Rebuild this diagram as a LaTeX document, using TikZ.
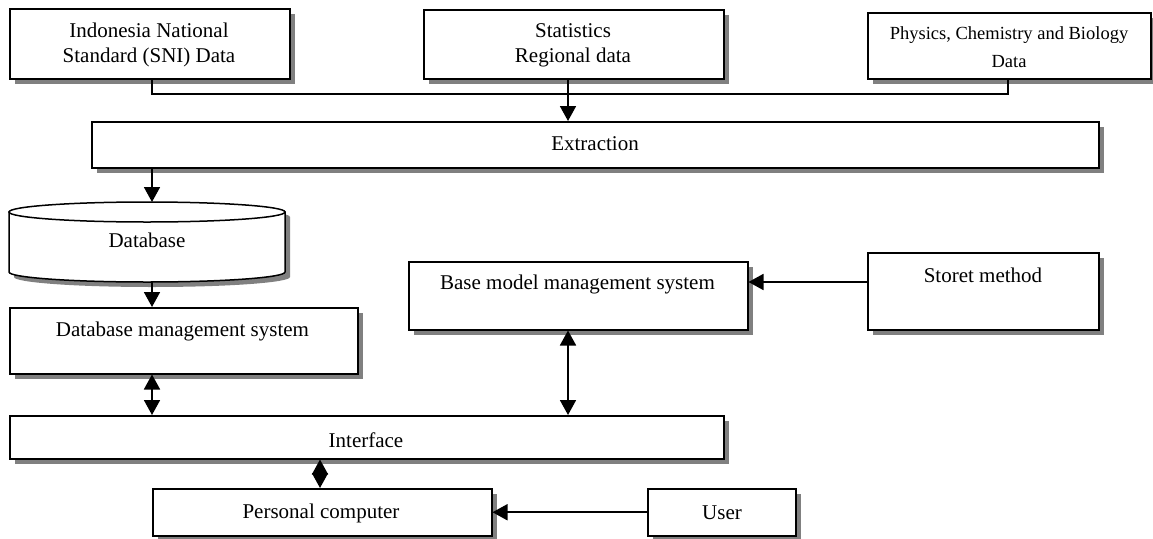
\documentclass[tikz,border=0pt]{standalone}
\usepackage{fontspec}
\setmainfont{Liberation Serif}
\usetikzlibrary{arrows.meta,shadows}
\begin{document}
\begin{tikzpicture}[x=1pt,y=-1pt,
  box/.style={draw, line width=1.5pt, fill=white,
    drop shadow={shadow xshift=5pt, shadow yshift=-5pt, fill=black!50, opacity=1},
    inner sep=0pt, anchor=north west},
  lbl/.style={font=\fontsize{21}{25}\selectfont, align=center, inner sep=0pt},
  conn/.style={line width=1.6pt},
  tip/.tip={Triangle[width=16pt,length=15pt]},
  arr/.style={line width=1.8pt, -tip},
  darr/.style={line width=1.8pt, tip-tip}]
\useasboundingbox (0,0) rectangle (1153,538);
% boxes
\node[box, minimum width=280pt, minimum height=70pt] (sni) at (9,8) {};
\node[box, minimum width=300pt, minimum height=69pt] (stat) at (423,9) {};
\node[box, minimum width=283pt, minimum height=66pt] (phys) at (867,12) {};
\node[box, minimum width=1007pt, minimum height=46pt] (ext) at (91,121) {};
\node[box, minimum width=348pt, minimum height=66pt] (dbms) at (9,307) {};
\node[box, minimum width=339pt, minimum height=68pt] (base) at (408,261) {};
\node[box, minimum width=231pt, minimum height=77pt] (store) at (867,252) {};
\node[box, minimum width=714pt, minimum height=43pt] (intf) at (9,415) {};
\node[box, minimum width=339pt, minimum height=47pt] (pc) at (152,488) {};
\node[box, minimum width=148pt, minimum height=47pt] (user) at (647,488) {};
% database cylinder
\node[inner sep=0pt, minimum width=276pt, minimum height=80pt, anchor=north west] (db) at (9,202) {};
\fill[black!50] (14,217) -- (14,277) arc(180:0:138 and 10) -- (290,217) arc(0:-180:138 and 10) -- cycle;
\draw[line width=1.5pt, fill=white] (9,212) -- (9,272) arc(180:0:138 and 10) -- (285,212) -- cycle;
\draw[line width=1.5pt, fill=white] (147,212) ellipse (138 and 10);
% labels
\node[lbl] at (149,44.5) {Indonesia National\\Standard (SNI) Data};
\node[lbl] at (573,45.5) {Statistics\\Regional data};
\node[lbl, font=\fontsize{18.5}{28}\selectfont] at (1009,47.5) {Physics, Chemistry and Biology\\Data};
\node[lbl] at (595,144) {Extraction};
\node[lbl] at (147,240) {Database};
\node[lbl] at (182.5,331) {Database management system};
\node[lbl] at (577.5,284) {Base model management system};
\node[lbl] at (983,275) {Storet method};
\node[lbl] at (366,440) {Interface};
\node[lbl] at (321,513) {Personal computer};
\node[lbl] at (722,513) {User};
% helper coordinates
\coordinate (j1) at (152,94);
\coordinate (j2) at (1008,94);
\coordinate (sx) at (568,0);
\coordinate (dx) at (152,0);
\coordinate (px) at (320,0);
\coordinate (sy) at (0,282);
% connectors
\draw[conn] (sni.south -| j1) -- (j1) -- (j2) -- (phys.south -| j2);
\draw[arr] (stat.south -| sx) -- (ext.north -| sx);
\draw[arr] (ext.south -| dx) -- (db.north -| dx);
\draw[arr] (db.south -| dx) -- (dbms.north -| dx);
\draw[darr] (dbms.south -| dx) -- (intf.north -| dx);
\draw[darr] (base.south -| sx) -- (intf.north -| sx);
\draw[arr] (store.west |- sy) -- (base.east |- sy);
\draw[darr] (intf.south -| px) -- (pc.north -| px);
\draw[arr] (user.west) -- (pc.east);
\end{tikzpicture}
\end{document}
